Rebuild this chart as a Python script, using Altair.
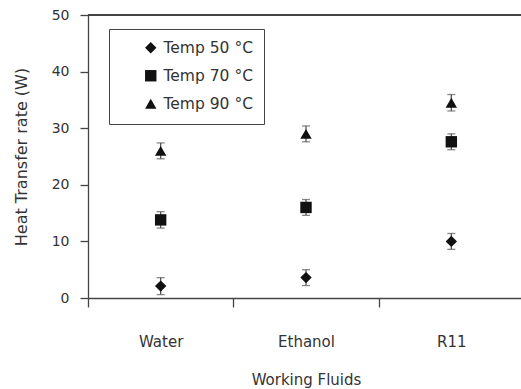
import altair as alt
import pandas as pd

fluids = ["Water", "Ethanol", "R11"]
series = ["Temp 50 °C", "Temp 70 °C", "Temp 90 °C"]
t50 = [2.1, 3.6, 10.0]
err50 = [1.5, 1.4, 1.4]
t70 = [13.8, 16.0, 27.6]
err70 = [1.45, 1.4, 1.4]
t90 = [26.0, 29.0, 34.5]
err90 = [1.4, 1.4, 1.45]

rows = []
for name, vals, errs in zip(series, [t50, t70, t90], [err50, err70, err90]):
    for f, v, e in zip(fluids, vals, errs):
        rows.append({"fluid": f, "series": name, "value": v, "err": e})
df = pd.DataFrame(rows)

FONT = "DejaVu Sans"
TXT = "#333333"
LINE = "#444444"

xscale = alt.Scale(type="band", domain=fluids, paddingInner=0, paddingOuter=0)
yscale = alt.Scale(domain=[0, 50], nice=False)

x_enc = alt.X(
    "fluid:N", scale=xscale, sort=fluids,
    axis=alt.Axis(title="Working Fluids", tickBand="extent", labelAngle=0,
                  labelPadding=27, titlePadding=23, tickSize=9, labelFontSize=15,
                  titleFontSize=15, titleFontWeight="normal", domainColor=LINE, tickColor=LINE,
                  labelColor=TXT, titleColor=TXT, domainWidth=1.3, tickWidth=1.3, grid=False),
)
y_axis = alt.Axis(title="Heat Transfer rate (W)", values=[0, 10, 20, 30, 40, 50], tickSize=8,
                  labelPadding=11, titlePadding=22, labelFontSize=14, titleFontSize=16,
                  titleFontWeight="normal", domainColor=LINE, tickColor=LINE,
                  labelColor=TXT, titleColor=TXT, domainWidth=1.3, tickWidth=1.3, grid=False)

base = alt.Chart(df).transform_calculate(
    lo="datum.value - datum.err", hi="datum.value + datum.err"
)

frame_top = alt.Chart(df).mark_rule(color=LINE, strokeWidth=1.3).encode(
    y=alt.Y(datum=50, scale=yscale, axis=y_axis)
)
rule = base.mark_rule(color="#555555", strokeWidth=1.3).encode(
    x=x_enc, y=alt.Y("lo:Q", scale=yscale, axis=y_axis), y2="hi:Q"
)
cap_lo = base.mark_tick(color="#555555", size=8, thickness=1.3, orient="horizontal").encode(
    x=x_enc, y=alt.Y("lo:Q", scale=yscale, axis=y_axis)
)
cap_hi = base.mark_tick(color="#555555", size=8, thickness=1.3, orient="horizontal").encode(
    x=x_enc, y=alt.Y("hi:Q", scale=yscale, axis=y_axis)
)
points = base.mark_point(filled=True, size=130, color="#111111", opacity=1).encode(
    x=x_enc,
    y=alt.Y("value:Q", scale=yscale, axis=y_axis),
    shape=alt.Shape(
        "series:N",
        scale=alt.Scale(domain=series, range=["diamond", "square", "triangle-up"]),
        legend=alt.Legend(
            title=None, orient="none", legendX=21, legendY=14, padding=11,
            strokeColor=LINE, fillColor="white", labelFontSize=15.5, labelColor=TXT,
            labelFont=FONT, symbolSize=130, symbolFillColor="#111111",
            symbolStrokeColor="#111111", symbolStrokeWidth=0, symbolOffset=23,
            labelOffset=5, rowPadding=11, labelExpr="datum.label + '\u00a0\u00a0\u00a0'",
        ),
    ),
)

chart = (
    alt.layer(frame_top, rule, cap_lo, cap_hi, points)
    .properties(
        width=436, height=283,
        autosize=alt.AutoSizeParams(type="none"),
        padding={"left": 88, "top": 15, "right": -3, "bottom": 91},
    )
    .configure(font=FONT, background="white")
    .configure_view(stroke="transparent", strokeWidth=0)
)

chart.save("out.html", embed_options={"renderer": "svg", "actions": False})
